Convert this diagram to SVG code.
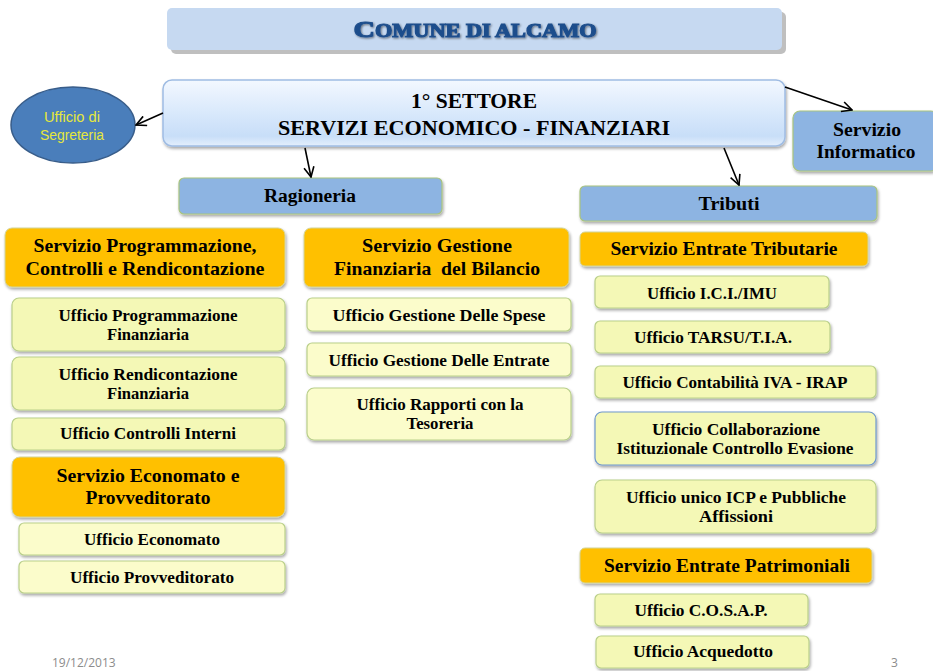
<svg xmlns="http://www.w3.org/2000/svg" width="933" height="671" viewBox="0 0 933 671">
<defs>
<linearGradient id="gMain" x1="0" y1="0" x2="0" y2="1">
<stop offset="0" stop-color="#F3F8FF"/>
<stop offset="0.55" stop-color="#D6E7FB"/>
<stop offset="0.85" stop-color="#C8DEF8"/>
<stop offset="1" stop-color="#E4EFFC"/>
</linearGradient>
<filter id="sh" x="-10%" y="-20%" width="120%" height="150%">
<feGaussianBlur in="SourceAlpha" stdDeviation="1.5"/>
<feOffset dx="1" dy="2" result="b"/>
<feComponentTransfer><feFuncA type="linear" slope="0.35"/></feComponentTransfer>
<feMerge><feMergeNode/><feMergeNode in="SourceGraphic"/></feMerge>
</filter>
<filter id="glow" x="-10%" y="-30%" width="120%" height="160%">
<feGaussianBlur in="SourceAlpha" stdDeviation="1.2"/>
<feOffset dx="0.5" dy="1" result="o"/>
<feComponentTransfer><feFuncA type="linear" slope="0.5"/></feComponentTransfer>
<feMerge><feMergeNode/><feMergeNode in="SourceGraphic"/></feMerge>
</filter>
<marker id="arr" viewBox="0 0 12 12" refX="11" refY="6" markerWidth="12" markerHeight="12" markerUnits="userSpaceOnUse" orient="auto">
<path d="M1,1 L11,6 L1,11" fill="none" stroke="#000" stroke-width="1.6"/>
</marker>
</defs>
<style>
.t{font-family:"Liberation Serif","Times New Roman",serif;font-weight:bold;fill:#000;text-anchor:middle;}
.uf{font-size:16px;}
.sv{font-size:19px;}
.bl{fill:#8DB4E2;stroke:#A9C47F;stroke-width:1.2;}
.or{fill:#FFC000;stroke:#D2D49A;stroke-width:1;}
.ye{fill:#F4F8B6;stroke:#B9CF8A;stroke-width:1.2;}
.ye2{fill:#FBFCCB;stroke:#B9CF8A;stroke-width:1.2;}
.ft{font-family:"Open Sans","Liberation Sans",sans-serif;font-size:12px;fill:#8C8C8C;}
.el{font-family:"Liberation Sans","Open Sans",sans-serif;font-size:14px;fill:#E6E83C;text-anchor:middle;}
</style>
<rect width="933" height="671" fill="#FFFFFF"/>

<g id="title">
<rect x="171" y="12" width="615" height="42" rx="5" fill="#BFBFBF"/>
<rect x="167" y="8" width="615" height="42" rx="5" fill="#C6D9F1"/>
<text x="475" y="37" text-anchor="middle" font-family="Liberation Serif,serif" font-weight="bold" fill="#1F4E8C" stroke="#1F4E8C" stroke-width="1.1" textLength="243" lengthAdjust="spacingAndGlyphs" filter="url(#glow)"><tspan font-size="24">C</tspan><tspan font-size="18">OMUNE DI ALCAMO</tspan></text>
</g>

<g id="settore">
<rect x="163" y="80" width="622" height="66" rx="9" fill="url(#gMain)" stroke="#9FBCE3" stroke-width="1.5" filter="url(#sh)"/>
<text class="t" x="474" y="108" font-size="21.5" textLength="126" lengthAdjust="spacingAndGlyphs">1° SETTORE</text>
<text class="t" x="474" y="135" font-size="21.5" textLength="392" lengthAdjust="spacingAndGlyphs">SERVIZI ECONOMICO - FINANZIARI</text>
</g>

<g id="segreteria">
<ellipse cx="73" cy="125" rx="62" ry="38" fill="#4A7EBB" stroke="#385D8A" stroke-width="1.5"/>
<text class="el" x="72" y="122" textLength="56" lengthAdjust="spacingAndGlyphs">Ufficio di</text>
<text class="el" x="72" y="140" textLength="64" lengthAdjust="spacingAndGlyphs">Segreteria</text>
</g>

<g id="informatico">
<rect class="bl" x="793" y="111" width="145" height="60" rx="7" filter="url(#sh)"/>
<text class="t" x="867" y="136" font-size="18.5" textLength="68" lengthAdjust="spacingAndGlyphs">Servizio</text>
<text class="t" x="866" y="158" font-size="18.5" textLength="99" lengthAdjust="spacingAndGlyphs">Informatico</text>
</g>

<g id="ragioneria">
<rect class="bl" x="179" y="178" width="263" height="36" rx="5" filter="url(#sh)"/>
<text class="t" x="310" y="202" font-size="18.5" textLength="92" lengthAdjust="spacingAndGlyphs">Ragioneria</text>
</g>

<g id="tributi">
<rect class="bl" x="580" y="186" width="297" height="35" rx="5" filter="url(#sh)"/>
<text class="t" x="729" y="210" font-size="18.5" textLength="61" lengthAdjust="spacingAndGlyphs">Tributi</text>
</g>

<g id="serv-prog">
<rect class="or" x="5" y="228" width="280" height="59" rx="7" filter="url(#sh)"/>
<text class="t sv" x="145" y="252" textLength="223" lengthAdjust="spacingAndGlyphs">Servizio Programmazione,</text>
<text class="t sv" x="145" y="275" textLength="239" lengthAdjust="spacingAndGlyphs">Controlli e Rendicontazione</text>
</g>

<g id="serv-gest">
<rect class="or" x="304" y="228" width="265" height="59" rx="7" filter="url(#sh)"/>
<text class="t sv" x="437" y="252" textLength="150" lengthAdjust="spacingAndGlyphs">Servizio Gestione</text>
<text class="t sv" x="437" y="275" xml:space="preserve" textLength="206" lengthAdjust="spacingAndGlyphs">Finanziaria  del Bilancio</text>
</g>

<g id="serv-trib">
<rect class="or" x="580" y="232" width="288" height="34" rx="5" filter="url(#sh)"/>
<text class="t sv" x="724" y="255" textLength="227" lengthAdjust="spacingAndGlyphs">Servizio Entrate Tributarie</text>
</g>

<g id="uff-prog">
<rect class="ye" x="12" y="298" width="273" height="53" rx="7" filter="url(#sh)"/>
<text class="t uf" x="148" y="321" textLength="179" lengthAdjust="spacingAndGlyphs">Ufficio Programmazione</text>
<text class="t uf" x="148" y="340" textLength="82" lengthAdjust="spacingAndGlyphs">Finanziaria</text>
</g>
<g id="uff-rend">
<rect class="ye" x="12" y="357" width="273" height="53" rx="7" filter="url(#sh)"/>
<text class="t uf" x="148" y="380" textLength="179" lengthAdjust="spacingAndGlyphs">Ufficio Rendicontazione</text>
<text class="t uf" x="148" y="399" textLength="82" lengthAdjust="spacingAndGlyphs">Finanziaria</text>
</g>
<g id="uff-contr">
<rect class="ye" x="12" y="418" width="273" height="32" rx="6" filter="url(#sh)"/>
<text class="t uf" x="148" y="439" textLength="176" lengthAdjust="spacingAndGlyphs">Ufficio Controlli Interni</text>
</g>
<g id="serv-econ">
<rect class="or" x="12" y="457" width="273" height="60" rx="8" filter="url(#sh)"/>
<text class="t sv" x="148" y="482" textLength="183" lengthAdjust="spacingAndGlyphs">Servizio Economato e</text>
<text class="t sv" x="148" y="504" textLength="125" lengthAdjust="spacingAndGlyphs">Provveditorato</text>
</g>
<g id="uff-econ">
<rect class="ye2" x="19" y="523" width="266" height="32" rx="5" filter="url(#sh)"/>
<text class="t uf" x="152" y="545" textLength="136" lengthAdjust="spacingAndGlyphs">Ufficio Economato</text>
</g>
<g id="uff-provv">
<rect class="ye2" x="19" y="561" width="266" height="32" rx="5" filter="url(#sh)"/>
<text class="t uf" x="152" y="583" textLength="164" lengthAdjust="spacingAndGlyphs">Ufficio Provveditorato</text>
</g>

<g id="uff-spese">
<rect class="ye2" x="307" y="298" width="264" height="33" rx="5" filter="url(#sh)"/>
<text class="t uf" x="439" y="321" textLength="213" lengthAdjust="spacingAndGlyphs">Ufficio Gestione Delle Spese</text>
</g>
<g id="uff-entrate">
<rect class="ye2" x="307" y="343" width="264" height="33" rx="5" filter="url(#sh)"/>
<text class="t uf" x="439" y="366" textLength="221" lengthAdjust="spacingAndGlyphs">Ufficio Gestione Delle Entrate</text>
</g>
<g id="uff-tes">
<rect class="ye2" x="307" y="388" width="264" height="52" rx="7" filter="url(#sh)"/>
<text class="t uf" x="440" y="410" textLength="167" lengthAdjust="spacingAndGlyphs">Ufficio Rapporti con la</text>
<text class="t uf" x="440" y="429" textLength="67" lengthAdjust="spacingAndGlyphs">Tesoreria</text>
</g>

<g id="uff-ici">
<rect class="ye" x="595" y="276" width="234" height="32" rx="5" filter="url(#sh)"/>
<text class="t uf" x="712" y="299" textLength="130" lengthAdjust="spacingAndGlyphs">Ufficio I.C.I./IMU</text>
</g>
<g id="uff-tarsu">
<rect class="ye" x="595" y="321" width="235" height="32" rx="5" filter="url(#sh)"/>
<text class="t uf" x="713" y="343" textLength="158" lengthAdjust="spacingAndGlyphs">Ufficio TARSU/T.I.A.</text>
</g>
<g id="uff-iva">
<rect class="ye" x="595" y="366" width="281" height="32" rx="5" filter="url(#sh)"/>
<text class="t uf" x="735" y="388" textLength="225" lengthAdjust="spacingAndGlyphs">Ufficio Contabilità IVA - IRAP</text>
</g>
<g id="uff-coll">
<rect x="595" y="412" width="281" height="53" rx="7" fill="#F4F8B6" stroke="#6F98CC" stroke-width="1.2" filter="url(#sh)"/>
<text class="t uf" x="736" y="435" textLength="168" lengthAdjust="spacingAndGlyphs">Ufficio Collaborazione</text>
<text class="t uf" x="735" y="454" textLength="237" lengthAdjust="spacingAndGlyphs">Istituzionale Controllo Evasione</text>
</g>
<g id="uff-icp">
<rect class="ye" x="595" y="480" width="281" height="53" rx="7" filter="url(#sh)"/>
<text class="t uf" x="736" y="503" textLength="220" lengthAdjust="spacingAndGlyphs">Ufficio unico ICP e Pubbliche</text>
<text class="t uf" x="736" y="522" textLength="74" lengthAdjust="spacingAndGlyphs">Affissioni</text>
</g>
<g id="serv-patr">
<rect class="or" x="580" y="548" width="292" height="35" rx="5" filter="url(#sh)"/>
<text class="t sv" x="727" y="572" textLength="246" lengthAdjust="spacingAndGlyphs">Servizio Entrate Patrimoniali</text>
</g>
<g id="uff-cosap">
<rect class="ye" x="595" y="594" width="213" height="32" rx="5" filter="url(#sh)"/>
<text class="t uf" x="701" y="616" textLength="133" lengthAdjust="spacingAndGlyphs">Ufficio C.O.S.A.P.</text>
</g>
<g id="uff-acq">
<rect class="ye" x="596" y="636" width="213" height="32" rx="5" filter="url(#sh)"/>
<text class="t uf" x="703" y="657" textLength="140" lengthAdjust="spacingAndGlyphs">Ufficio Acquedotto</text>
</g>

<g id="connectors" stroke="#000" stroke-width="1.6" fill="none">
<line x1="163" y1="113" x2="136" y2="125" marker-end="url(#arr)"/>
<line x1="785" y1="87" x2="852" y2="110" marker-end="url(#arr)"/>
<line x1="305" y1="148" x2="311" y2="177" marker-end="url(#arr)"/>
<line x1="724" y1="148" x2="739" y2="185" marker-end="url(#arr)"/>
</g>

<text class="ft" x="52" y="667">19/12/2013</text>
<text class="ft" x="891" y="667">3</text>
</svg>
